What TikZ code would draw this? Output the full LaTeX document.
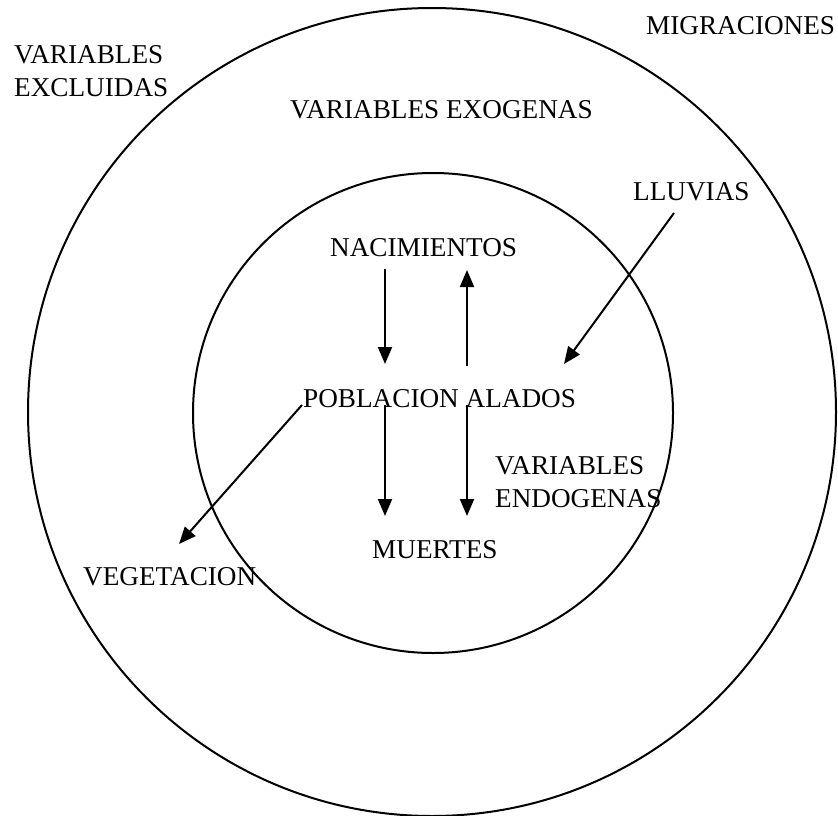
\documentclass[tikz,border=0pt]{standalone}
\usepackage{fontspec}
\setmainfont{Liberation Serif}
\usetikzlibrary{arrows.meta}
\tikzset{
  lbl/.style={anchor=base west, inner sep=0pt, font=\fontsize{27.2pt}{33pt}\selectfont, align=left},
  ring/.style={circle, draw, line width=2pt, inner sep=0pt},
  arr/.style={line width=2pt, -{Triangle[length=17pt,width=14pt]}}
}
\begin{document}
\begin{tikzpicture}[x=1pt,y=-1pt]
\useasboundingbox (0,0) rectangle (838,816);
\node[ring, minimum size=808pt] (outer) at (432,412) {};
\node[ring, minimum size=480pt] (inner) at (433,413) {};

\node[lbl] (excl) at (14,96) {VARIABLES\\EXCLUIDAS};
\node[lbl] (exo) at (290,118) {VARIABLES EXOGENAS};
\node[lbl] (migr) at (646,35) {MIGRACIONES};
\node[lbl] (lluv) at (633,200) {LLUVIAS};
\node[lbl] (nac) at (330,256) {NACIMIENTOS};
\node[lbl] (pob) at (303,407) {POBLACION ALADOS};
\node[lbl] (veg) at (83,585) {VEGETACION};
\node[lbl] (muer) at (372,558) {MUERTES};
\node[lbl] (endo) at (495,507) {VARIABLES\\ENDOGENAS};

\coordinate (a1s) at (385,269);
\coordinate (a1e) at (385,364);
\coordinate (a2s) at (467,366);
\coordinate (a2e) at (467,270);
\coordinate (a3s) at (385,405);
\coordinate (a3e) at (385,516);
\coordinate (a4s) at (467,405);
\coordinate (a4e) at (467,516);
\coordinate (a5s) at (674,213);
\coordinate (a5e) at (564,364);
\coordinate (a6s) at (302,405);
\coordinate (a6e) at (179,544);

\draw[arr] (a1s) -- (a1e);
\draw[arr] (a2s) -- (a2e);
\draw[arr] (a3s) -- (a3e);
\draw[arr] (a4s) -- (a4e);
\draw[arr] (a5s) -- (a5e);
\draw[arr] (a6s) -- (a6e);
\end{tikzpicture}
\end{document}
